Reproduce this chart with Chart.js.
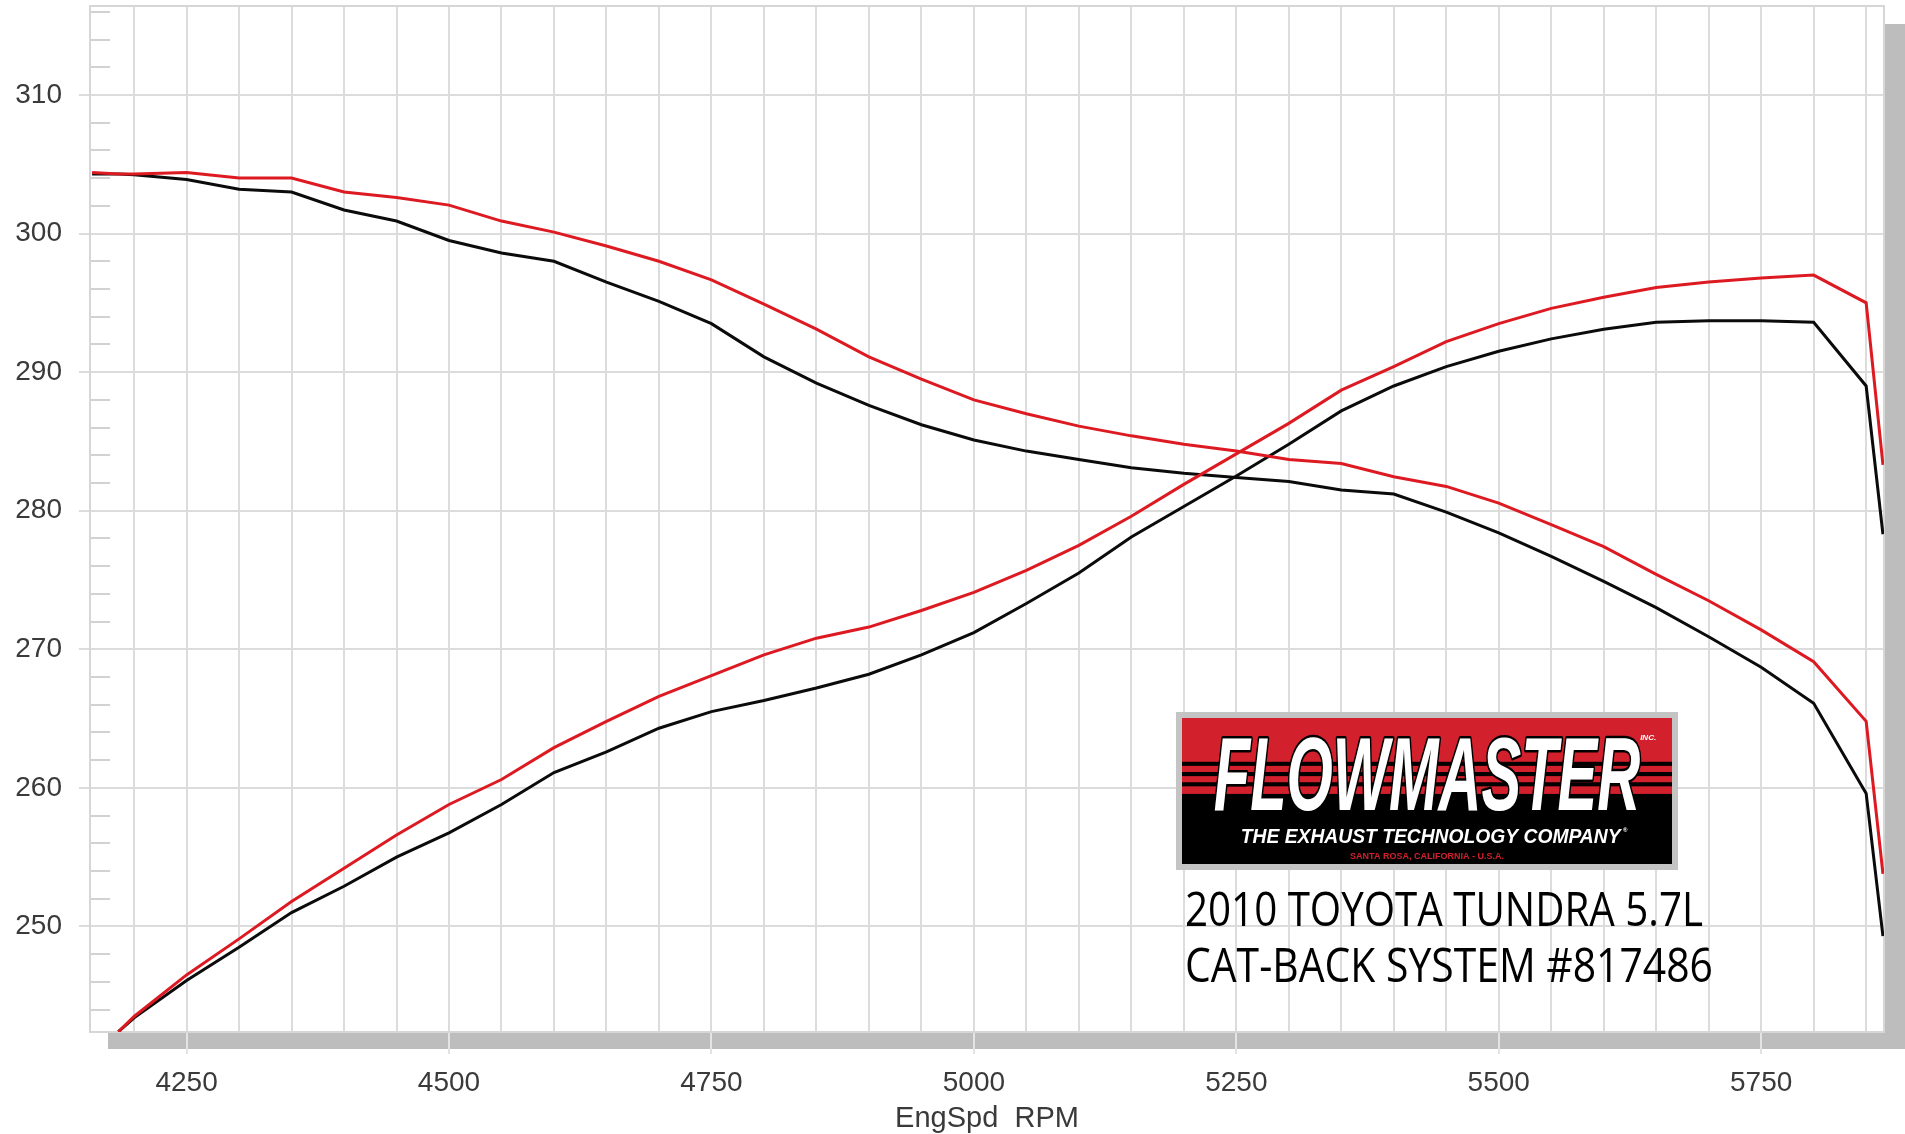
<!DOCTYPE html>
<html>
<head>
<meta charset="utf-8">
<title>2010 Toyota Tundra 5.7L - Flowmaster Cat-Back #817486</title>
<script src="https://cdn.jsdelivr.net/npm/chart.js@4.4.0/dist/chart.umd.min.js"></script>
<style>
    html, body { margin: 0; padding: 0; background: #fff; }
    #wrap { width: 1905px; height: 1134px; }
</style>
</head>
<body>
<div id="wrap"><canvas id="dynoChart" width="1905" height="1134"></canvas></div>
<script>
// Engine speed (RPM) samples read from the dyno sheet
const rpm = [4160, 4185, 4200, 4250, 4300, 4350, 4400, 4450, 4500, 4550, 4600, 4650, 4700,
             4750, 4800, 4850, 4900, 4950, 5000, 5050, 5100, 5150, 5200, 5250, 5300, 5350,
             5400, 5450, 5500, 5550, 5600, 5650, 5700, 5750, 5800, 5850, 5866];

// Torque curves (falling)
const torqueStock = [304.3, 304.3, 304.25, 303.9, 303.2, 303.0, 301.7, 300.9, 299.5, 298.6, 298.0, 296.5, 295.1,
                     293.5, 291.1, 289.2, 287.6, 286.2, 285.1, 284.3, 283.7, 283.1, 282.7, 282.4, 282.1, 281.5,
                     281.2, 279.9, 278.4, 276.7, 274.9, 273.0, 270.9, 268.7, 266.1, 259.6, 249.3];
const torqueFlowmaster = [304.4, 304.3, 304.3, 304.4, 304.0, 304.0, 303.0, 302.6, 302.05, 300.9, 300.1, 299.1, 298.0,
                          296.65, 294.9, 293.1, 291.1, 289.5, 288.0, 287.0, 286.1, 285.4, 284.8, 284.3, 283.7, 283.4,
                          282.45, 281.75, 280.55, 279.0, 277.4, 275.4, 273.5, 271.4, 269.1, 264.8, 253.8];

// Horsepower curves (rising)
const hpStock = [null, 242.4, 243.4, 246.1, 248.5, 251.0, 252.9, 255.0, 256.75, 258.8, 261.1, 262.6, 264.3,
                 265.5, 266.3, 267.2, 268.2, 269.6, 271.2, 273.3, 275.5, 278.1, 280.3, 282.5, 284.8, 287.2,
                 289.0, 290.4, 291.5, 292.4, 293.1, 293.6, 293.7, 293.7, 293.6, 289.0, 278.3];
const hpFlowmaster = [null, 242.4, 243.5, 246.5, 249.1, 251.8, 254.2, 256.6, 258.8, 260.6, 262.9, 264.8, 266.6,
                      268.1, 269.6, 270.8, 271.6, 272.8, 274.1, 275.7, 277.5, 279.6, 281.9, 284.1, 286.3, 288.7,
                      290.4, 292.2, 293.5, 294.6, 295.4, 296.1, 296.5, 296.8, 297.0, 295.0, 283.3];

// Axis ranges and tick steps
const xMin = 4158, xMax = 5867, xStep = 50, xLabelEvery = 250;
const yMin = 242.38, yMax = 316.42, yStep = 2, yLabelEvery = 10;

const titleLines = ['2010 TOYOTA TUNDRA 5.7L', 'CAT-BACK SYSTEM #817486'];

const RED = '#dd1a22';
const BLACK = '#0b0b0b';
const GRID = '#dcdcdc';
const LABEL = '#3a3a3a';

function toPoints(values) {
    return rpm.map((r, i) => ({ x: r, y: values[i] }));
}

// Gray drop shadow, frame and the small inside minor ticks
const framePlugin = {
    id: 'frame',
    beforeDraw(chart) {
        const { ctx, chartArea: a } = chart;
        ctx.save();
        ctx.fillStyle = '#bdbdbd';
        ctx.fillRect(a.left + 18, a.bottom, a.right - a.left + 2, 17);
        ctx.fillRect(a.right + 1, a.top + 18, 20, a.bottom - a.top - 1);
        ctx.fillStyle = '#fff';
        ctx.fillRect(a.left, a.top, a.right - a.left, a.bottom - a.top);
        ctx.restore();
    },
    beforeDatasetsDraw(chart) {
        const { ctx, chartArea: a } = chart;
        const y = chart.scales.y;
        ctx.save();
        ctx.strokeStyle = '#d2d2d2';
        ctx.lineWidth = 2;
        y.ticks.forEach(t => {
            if (t.value % yLabelEvery === 0) return;
            const py = Math.round(y.getPixelForValue(t.value));
            ctx.beginPath();
            ctx.moveTo(a.left, py);
            ctx.lineTo(a.left + 20, py);
            ctx.stroke();
        });
        ctx.strokeStyle = '#d6d6d6';
        ctx.strokeRect(a.left, a.top, a.right - a.left, a.bottom - a.top);
        ctx.restore();
    }
};

// Flowmaster badge
function drawLogo(ctx, x, y, w, h) {
    ctx.save();
    ctx.fillStyle = '#c4c4c4';
    ctx.fillRect(x, y, w, h);
    const ix = x + 6, iy = y + 6, iw = w - 12, ih = h - 12;
    ctx.fillStyle = '#d2202c';
    ctx.fillRect(ix, iy, iw, ih);
    ctx.fillStyle = '#000';
    [0.30, 0.37, 0.44].forEach(f => ctx.fillRect(ix, iy + ih * f, iw, ih * 0.028));
    ctx.fillRect(ix, iy + ih * 0.52, iw, ih * 0.48);

    ctx.textAlign = 'left';
    ctx.textBaseline = 'alphabetic';
    ctx.font = 'italic bold 104px "Liberation Sans Narrow", "Liberation Sans", sans-serif';
    ctx.lineJoin = 'round';
    ctx.lineWidth = 5;
    ctx.strokeStyle = '#000';
    ctx.strokeText('FLOWMASTER', ix + iw * 0.065, iy + ih * 0.63, iw * 0.87);
    ctx.fillStyle = '#fff';
    ctx.fillText('FLOWMASTER', ix + iw * 0.065, iy + ih * 0.63, iw * 0.87);

    ctx.font = 'italic bold 20px "Liberation Sans", sans-serif';
    ctx.fillText('THE EXHAUST TECHNOLOGY COMPANY', ix + iw * 0.12, iy + ih * 0.855, iw * 0.775);
    ctx.font = 'bold 6px "Liberation Sans", sans-serif';
    ctx.fillText('®', ix + iw * 0.9, iy + ih * 0.78);
    ctx.font = 'italic bold 8px "Liberation Sans", sans-serif';
    ctx.fillText('INC.', ix + iw * 0.935, iy + ih * 0.15);

    ctx.textAlign = 'center';
    ctx.fillStyle = '#d2202c';
    ctx.font = 'bold 9px "Liberation Sans", sans-serif';
    ctx.fillText('SANTA ROSA, CALIFORNIA - U.S.A.', ix + iw * 0.5, iy + ih * 0.965, iw * 0.4);
    ctx.restore();
}

const badgePlugin = {
    id: 'badge',
    afterDraw(chart) {
        const ctx = chart.ctx;
        drawLogo(ctx, 1176, 712, 502, 158);
        ctx.save();
        ctx.fillStyle = '#000';
        ctx.textAlign = 'left';
        ctx.textBaseline = 'alphabetic';
        ctx.font = '48px "Open Sans", "Noto Sans", sans-serif';
        ctx.fillText(titleLines[0], 1185, 926, 518);
        ctx.fillText(titleLines[1], 1185, 982, 528);
        ctx.restore();
    }
};

const ctx = document.getElementById('dynoChart').getContext('2d');
const chart = new Chart(ctx, {
    type: 'line',
    data: {
        datasets: [
            { label: 'Flowmaster HP', data: toPoints(hpFlowmaster), borderColor: RED },
            { label: 'Flowmaster Torque', data: toPoints(torqueFlowmaster), borderColor: RED },
            { label: 'Stock HP', data: toPoints(hpStock), borderColor: BLACK },
            { label: 'Stock Torque', data: toPoints(torqueStock), borderColor: BLACK }
        ]
    },
    options: {
        responsive: false,
        animation: false,
        parsing: false,
        elements: {
            line: { borderWidth: 3, tension: 0, fill: false },
            point: { radius: 0 }
        },
        layout: { padding: { top: 6, right: 21, left: 0, bottom: 0 } },
        plugins: {
            legend: { display: false },
            tooltip: { enabled: false }
        },
        scales: {
            x: {
                type: 'linear',
                min: xMin,
                max: xMax,
                afterFit: s => {
                    s.height = 102;
                    s.paddingLeft = 0;
                    s.paddingRight = 0;
                },
                ticks: {
                    stepSize: xStep,
                    includeBounds: false,
                    autoSkip: false,
                    maxRotation: 0,
                    padding: 12,
                    color: LABEL,
                    font: { family: '"Liberation Sans", Arial, sans-serif', size: 28 },
                    callback: v => (v % xLabelEvery === 0 ? String(v) : '')
                },
                grid: {
                    color: GRID,
                    lineWidth: 2,
                    tickLength: 22,
                    tickColor: c => (c.tick && c.tick.value % xLabelEvery === 0 ? '#e4e4e4' : 'rgba(0,0,0,0)')
                },
                border: { display: false },
                title: {
                    display: true,
                    text: 'EngSpd  RPM',
                    color: LABEL,
                    font: { family: '"Liberation Sans", Arial, sans-serif', size: 29, lineHeight: 1 },
                    padding: { top: 0, bottom: 1 }
                }
            },
            y: {
                min: yMin,
                max: yMax,
                afterFit: s => {
                    s.width = 90;
                    s.paddingTop = 0;
                    s.paddingBottom = 0;
                },
                ticks: {
                    stepSize: yStep,
                    includeBounds: false,
                    autoSkip: false,
                    padding: 17,
                    color: LABEL,
                    font: { family: '"Liberation Sans", Arial, sans-serif', size: 28 },
                    callback: v => (v % yLabelEvery === 0 ? String(v) : '')
                },
                grid: {
                    lineWidth: 2,
                    tickLength: 11,
                    color: c => (c.tick && c.tick.value % yLabelEvery === 0 ? GRID : 'rgba(0,0,0,0)'),
                    tickColor: c => (c.tick && c.tick.value % yLabelEvery === 0 ? GRID : 'rgba(0,0,0,0)')
                },
                border: { display: false }
            }
        }
    },
    plugins: [framePlugin, badgePlugin]
});
</script>
</body>
</html>
